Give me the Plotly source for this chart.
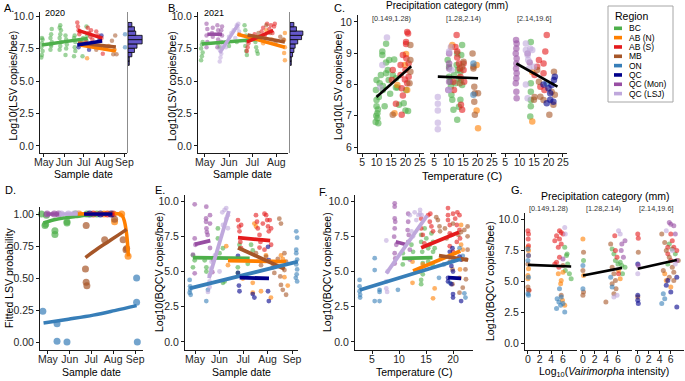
import plotly.graph_objects as go

W, H = 685, 381
FONT = "Liberation Sans, Arial, sans-serif"

REGIONS = ["BC", "AB (N)", "AB (S)", "MB", "ON", "QC", "QC (Mon)", "QC (LSJ)"]
COLORS = ["#4DAF4A", "#FF7F00", "#E41A1C", "#A65628", "#377EB8", "#00008B", "#984EA3", "#BFA8DC"]
MONTH_DOY = [121, 152, 182, 213, 244]
MONTH_LBL = ["May", "Jun", "Jul", "Aug", "Sep"]
PRECIP_CATS = ["[0.149,1.28)", "[1.28,2.14)", "[2.14,19.6]"]

# ---------------- Panel A (2020): (day of year, log10 LSV) ----------------
A_BC = [(117,6.8),(118,7.0),(119,7.3),(117,7.6),(118,7.9),(119,8.2),(118,8.3),
        (131,7.4),(132,7.8),(133,8.0),(131,8.3),(132,8.6),(133,9.0),(132,7.7),
        (145,7.4),(146,7.7),(147,8.0),(145,8.3),(146,8.6),(147,8.9),(146,9.3),(145,9.1),
        (154,7.0),(155,7.5),(156,7.8),(155,8.2),(154,8.5),
        (167,6.9),(168,7.6),(169,8.0),(167,8.3),(168,8.5),(169,7.3),
        (180,6.9),(179,8.0),(181,8.3),(186,8.1),(187,8.5),(186,9.2)]
A_ABN = [(187,6.75),(204,7.6),(214,7.5),(220,7.7),(229,7.4),(178,7.9)]
A_ABS = [(172,9.5),(173,9.2),(174,8.9),(175,8.6),(176,8.8),(188,9.1),(190,8.7),(192,8.4),
         (195,8.2),(193,8.9),(201,8.8),(204,8.5),(207,8.1),(209,8.3),(211,7.1),(185,8.0)]
A_MB = [(230,8.5),(225,8.1),(227,7.05),(232,7.05),(201,7.4),(215,7.6)]
A_ON = [(245,8.6),(245,7.6)]
A_QC = [(174,7.6),(190,7.4),(209,8.5),(206,8.2)]
A_BC_fit = [(118,7.77),(188,8.28)]
A_ABN_fit = [(176,7.77),(231,7.3)]
A_ABS_fit = [(173,8.9),(210,8.3)]
A_MB_fit = [(173,7.92),(231,7.62)]
A_QC_fit = [(172,7.77),(210,8.08)]

# ---------------- Panel B (2021) ----------------
B_BC = [(116,6.6),(117,6.9),(118,7.2),(116,7.5),(117,7.8),(118,8.0),(138,7.9),(140,7.6),
        (151,8.0),(152,7.7),(162,8.0),(172,9.3),(173,8.9),(174,8.5),(175,8.1),(173,7.7),
        (174,7.3),(175,7.0),(186,8.0),(187,7.6),(188,7.3),(189,7.1),(180,8.2)]
B_ABN = [(224,8.7),(223,8.15),(224,7.6),(223,7.15),(224,6.6),(189,8.4),(200,8.9),(207,8.2),(196,7.9),(165,8.6)]
B_ABS = [(175,7.3),(176,7.6),(177,7.9),(178,8.4),(194,8.8),(196,9.1),(198,8.5),(201,9.4),
         (204,9.0),(206,9.3),(208,8.7),(210,9.2),(211,9.4),(185,8.6),(190,8.3)]
B_MB = [(200,9.3),(205,8.7),(212,8.0),(218,8.4),(222,8.2),(190,8.7)]
B_QCMon = [(123,9.4),(124,9.0),(123,8.5),(124,8.0),(123,7.6),(131,9.1),(130,8.7),(131,8.4),
           (137,9.3),(138,8.9),(139,8.6),(138,8.2),(137,7.6),(143,9.2),(142,8.9),(143,8.5),(142,8.0)]
B_LSJ = [(140,6.5),(141,6.8),(142,7.1),(140,7.4),(143,7.7),(148,7.6),(150,8.0),(152,8.4),
         (155,8.7),(158,8.9),(162,9.3),(163,9.1),(164,9.4),(165,8.8),(160,8.3)]
B_BC_fit = [(117,7.85),(188,8.2)]
B_ABN_fit = [(163,8.6),(224,7.6)]
B_ABS_fit = [(175,8.0),(209,8.9)]
B_MB_fit = [(176,8.54),(224,8.0)]
B_QCMon_fit = [(124,8.6),(143,8.6)]
B_LSJ_fit = [(140,7.15),(164,9.38)]

# marginal histograms (bin centres, counts)
HIST_BINS = [6.37, 6.70, 7.03, 7.36, 7.69, 8.02, 8.35, 8.68, 9.01, 9.34]
A_HIST = [1, 1, 3, 5, 7, 11, 11, 6, 5, 3]
B_HIST = [1, 1, 2, 3, 4, 6, 9, 10, 5, 3]

# ---------------- Panel C: temperature vs LSV, by precipitation ----------------
C1_BC = [(10,8.14),(9.8,7.82),(10,7.5),(10,7.3),(10.3,7.08),(10.3,6.92),(10.6,6.76),(9.7,6.8),
         (11.1,8.04),(10.8,7.6),(12,9.05),(12,8.94),(12.2,7.82),(12.8,7.3),(13.3,8.36),(13.3,8.7),
         (13.9,8.46),(14.2,8.14),(13.3,9.3),(14.4,8.78),(15.6,8.3),(16.1,8.8),(16.7,8.2),(16.7,7.9),
         (17.8,7.35),(19.4,7.4),(20,7.17),(20.9,7.15),(20.2,7.82),(17.2,7.9),(12.2,7.95),(14.7,7.7),
         (10.5,7.2),(11.5,8.3),(9.9,7.0)]
C1_ABN = [(16.2,7.08),(20.2,8.97),(20.6,7.82),(17.2,7.98),(19.8,8.62)]
C1_ABS = [(18.3,8.62),(18.3,8.3),(18.7,7.88),(19.1,8.94),(19.8,8.16),(20,8.46),(20.2,9.36),(20.2,9.29),
          (20.6,9.68),(20.9,9.63),(20.3,8.84),(21.1,8.67),(21.1,8.25),(20.6,8.04),(18.7,7.03),
          (16.7,7.38),(15.6,8.46),(15.3,8.14),(19.1,7.65)]
C1_MB = [(21.7,9.26),(21.7,8.41),(21.4,8.04),(21.7,8.78),(15.6,7.03)]
C1_LSJ = [(13.6,9.5),(12,8.62),(11.3,7.9)]
C1_fit = [(10,7.6),(22,8.58)]

C2_BC = [(9.7,8.78),(10.2,8.57),(10.2,8.25),(10.6,8.09),(10.8,7.93),(11,7.67),(11.3,7.51),(11.7,7.19),
         (11.9,8.3),(12.4,8.04),(12.8,8.62),(13,8.99),(13.2,8.46),(13.6,8.2),(13,6.87),(14.1,8.41),
         (14.3,8.14),(14.4,8.94),(14.7,9.26),(14.7,7.98),(14.1,7.51),(13.6,7.29)]
C2_ABN = [(11,9.2),(11.3,9.26),(19.7,7.17),(20.2,6.6),(19.7,8.62)]
C2_ABS = [(12.8,9.58),(12.4,9.2),(13,9.05),(13,8.86),(13.6,8.67),(13.9,8.51),(14.1,8.25),(14.3,7.35),
          (14.7,7.19),(15.2,8.67),(15.2,8.46),(15.4,8.09),(11.7,8.09),(11.9,7.82)]
C2_MB = [(18.3,8.99),(18.6,8.57),(18.6,8.51),(18.9,7.93),(19.1,7.72),(18.9,7.45),(19.1,7.03),
         (20.2,7.72),(15.2,8.73),(14.7,8.57),(13.9,8.04)]
C2_ON = [(18.6,8.67),(18.6,7.67)]
C2_QCMon = [(10.2,8.99),(10.2,8.67),(10.2,8.51),(10.2,8.09),(9.9,7.82)]
C2_LSJ = [(6.3,7.6),(6.3,7.38),(6.3,7.17),(6.3,6.78),(6.3,6.57),(10.2,7.82),(10.8,9.2),(10.2,9.05),(11,8.46)]
C2_fit = [(6.3,8.25),(20.2,8.2)]

C3_BC = [(13.9,9.36),(13.9,8.04),(13.9,7.77),(13.9,7.5),(13.7,6.98),(13.9,7.3)]
C3_ABN = [(14.4,6.82),(14.4,8.4)]
C3_ABS = [(16.7,8.78),(16.1,8.57),(15.2,8.3),(18.3,8.36),(18.6,7.82),(19.4,9.58),(18.9,9.05),(18.3,8.67),(17.2,7.93)]
C3_MB = [(16.1,8.46),(16.7,8.09),(17.2,7.61),(18.3,7.5),(20.3,7.03),(21.7,7.35),(22.2,7.67),(21.1,7.77),
         (21.9,8.41),(15.2,7.6),(15,7.51)]
C3_ON = [(19.4,8.04)]
C3_QC = [(20.6,7.72),(20.6,7.51),(20,7.88),(21.1,7.98),(21.9,8.14),(22.2,8.25),(21.7,7.45),(19.4,7.4),(18.3,8.0)]
C3_QCMon = [(8.8,9.42),(9.0,9.31),(8.9,9.15),(8.7,8.99),(9.0,8.83),(8.9,8.67),(8.8,8.51),(9.0,8.36),
            (8.9,8.2),(8.7,8.04),(8.9,7.77),(9.0,7.56),(12.8,8.99),(13.5,8.7)]
C3_LSJ = [(12.2,9.31),(12.2,9.1),(12.8,8.94),(13,8.78),(13.3,8.51),(13.7,9.15),(14.4,9.1),(15,8.57),(12.8,7.56),(12.2,8.0)]
C3_fit = [(8.9,8.67),(23.1,7.93)]

# ---------------- Panel D: fitted LSV probability vs date ----------------
D_BC = [(112,1.0),(119,0.99),(117,0.91),(118,0.92),(131,0.87),(131,0.84),(148,0.94),(148,0.93),(176,1.0),(160,1.0),(190,1.0)]
D_ABN = [(234,0.67),(215,0.94),(165,1.0),(200,1.0),(225,1.0)]
D_ABS = [(185,1.0),(205,1.0),(213,1.0)]
D_MB = [(175,0.91),(174,0.57),(175,0.466),(176,0.44),(201,0.80),(215,0.96),(227,0.80),(232,0.73),(231,0.72)]
D_ON = [(114,0.24),(134,0.143),(134,0.005),(148,0.0),(246,0.50),(246,0.31),(247,0.0)]
D_QC = [(180,1.0),(195,1.0),(210,1.0)]
D_QCMon = [(120,1.0),(130,1.0),(136,1.0)]
D_LSJ = [(140,1.0),(150,1.0),(158,1.0),(162,1.0)]
D_BC_fit = [(115,0.93),(130,0.955),(145,0.97),(160,0.98),(175,0.99),(190,0.997)]
D_ABN_fit = [(163,1.0),(222,1.0),(226,0.985),(229,0.94),(232,0.84),(234.5,0.67)]
D_ABS_fit = [(173,1.0),(215,1.0)]
D_MB_fit = [(174,0.66),(190,0.725),(205,0.78),(220,0.835),(232,0.88)]
D_ON_fit = [(115,0.148),(150,0.178),(185,0.21),(215,0.245),(246,0.284)]
D_QC_fit = [(172,1.0),(212,1.0)]
D_QCMon_fit = [(119,1.0),(137,1.0)]
D_LSJ_fit = [(138,1.0),(163,1.0)]

# ---------------- Panel E: BQCV vs date ----------------
E_BC = [(118.4,6.15),(120.6,5.8),(118.4,5.3),(133.3,5.8),(135.4,5.3),(135.4,5.0),(150,8.06),(150,7.35),
        (152.1,6.3),(156.4,6.65),(158.5,4.3),(156.4,4.2),(175.3,5.3),(175.3,4.9),(177.4,6.9),(192.1,6.9),
        (194.2,6.5),(187.9,5.55)]
E_ABN = [(162.8,5.45),(160.6,6.8),(196.3,8.4),(198.4,8.2),(194.2,4.2),(204.7,3.6),(211,6.15),(217.3,3.15),
         (230,6.15),(232.3,5.9),(234.4,4.6),(238.6,4.0),(181.6,4.5),(194.2,3.5)]
E_ABS = [(175.5,8.65),(176.7,8.18),(177.4,7.85),(178.5,7.1),(179.5,6.65),(175.5,5.9),(179.5,8.3),(198.3,9.0),
         (199.6,8.53),(200.6,8.06),(202.8,7.6),(202.8,6.7),(209.1,9.1),(211.2,9.0),(212.5,8.65),(213.6,8.2),
         (214.6,7.85),(215.8,8.65),(217.5,8.06),(217.5,6.9),(207,8.4),(209.1,6.55),(204,7.1)]
E_MB = [(198.3,6.3),(204.7,5.45),(211.1,6.05),(219.5,5.3),(221.6,4.9),(227.9,8.75),(230,8.4),(229.1,4.65),
        (230,4.05),(232.3,3.7),(234.4,5.1),(236.5,5.7),(236.5,3.35),(234.4,6.3),(226,5.9)]
E_ON = [(114.2,4.4),(114.8,3.95),(114.8,3.7),(114.2,3.5),(115.5,3.35),(137.4,3.7),(135.3,2.9),(249.4,7.85),
        (250.5,7.4),(249.4,6.55),(249.4,6.3),(250.5,5.85),(249.4,5.5),(250.5,5.15),(249.9,4.8),(248.8,4.55),(250.5,4.3)]
E_QC = [(175.5,6.1),(176.7,4.0),(177.4,3.6),(194.2,3.4),(196.3,3.15),(213.6,6.75),(214.6,5.8),(213.6,3.6),(214.6,2.9),(175.5,4.9)]
E_QCMon = [(120.6,9.77),(135.3,9.6),(135,8.77),(135,8.53),(135.5,8.06),(136,7.8),(137,7.6),(140,9.0),(140,8.4),
           (140,6.67),(120.6,7.35),(121.5,6.9),(120.6,4.87),(118.4,6.2),(144.2,5.8),(143,4.95)]
E_LSJ = [(139.5,4.75),(139.5,4.3),(141,5.2),(142,5.7),(146.3,6.15),(155.6,9.2),(158.5,9.37),(160.6,9.5),(162.7,9.0),
         (156.5,8.3),(160.6,8.75),(162.7,8.07),(152.1,5.0),(137.4,3.55),(139.5,3.9)]
E_BC_fit = [(118.4,5.98),(190.3,5.93)]
E_ABN_fit = [(162.8,5.77),(236.7,5.7)]
E_ABS_fit = [(175.5,7.4),(216.3,7.19)]
E_MB_fit = [(175.5,6.69),(234.6,5.18)]
E_ON_fit = [(114.2,3.8),(251.5,5.7)]
E_QC_fit = [(177.6,4.56),(214.8,4.52)]
E_QCMon_fit = [(120.6,6.93),(140.4,7.19)]
E_LSJ_fit = [(138.7,4.52),(164,9.29)]

# ---------------- Panel F: BQCV vs temperature ----------------
F_BC = [(10.7,6.3),(10.7,5.5),(12.3,6.9),(12.6,6.4),(14.1,7.6),(14.1,7.1),(14.3,6.4),(14.4,5.6),(14.75,8.06),
        (15.06,7.35),(15.4,6.65),(15.4,5.7),(14.4,4.8),(14.1,4.4),(14.1,4.1),(15.7,6.9),(16.0,7.7),(16.3,7.1),
        (16.3,6.4),(16.6,6.65),(16.2,5.5)]
F_ABN = [(12.5,5.7),(12.5,4.2),(16.6,3.8),(16.3,3.1),(13.8,5.0),(14.4,5.5),(21.5,8.3),(21.5,6.9),(21.8,6.55),
         (21.7,5.85),(21.3,5.15),(21.2,4.55),(19.7,6.1)]
F_ABS = [(14.1,8.75),(14.1,8.06),(14.4,7.6),(14.7,7.0),(15.4,9.0),(15.8,9.1),(15.7,8.53),(16.0,8.2),(16.3,7.85),
         (19.07,9.5),(19.07,9.0),(19.07,8.65),(19.4,8.3),(20.0,9.1),(20.4,8.75),(20.7,8.3),(20.8,9.2),(21.2,9.0),
         (21.2,7.95),(21.3,7.35),(20.7,7.1),(19.4,7.7),(19.4,6.8),(20.0,6.4),(19.7,7.6)]
F_MB = [(16.9,8.85),(17.2,8.65),(17.5,8.2),(17.6,7.85),(18.5,8.06),(18.8,7.35),(20.0,8.4),(21.0,7.6),(21.5,7.8),
        (22.1,7.95),(22.7,8.2),(22.7,7.5),(22.7,6.55),(22.4,5.85),(22.3,5.15),(22.4,4.45),(21.8,3.85),(21.2,3.5),
        (19.9,4.1),(19.9,5.15),(19.4,5.7)]
F_ON = [(2.7,4.4),(2.7,3.95),(2.7,3.6),(2.8,3.35),(2.8,3.15),(5.5,5.95),(5.5,5.1),(5.5,2.9),(6.4,2.9),(6.4,3.7),
        (6.4,3.55),(9.8,3.7),(17.4,4.55),(18.3,5.5),(20.0,5.75),(21.2,6.65),(21.8,6.1),(22.1,3.45),(22.3,3.15),(19.4,4.2)]
F_QC = [(19.4,6.4),(19.9,6.65),(19.7,5.4),(20.0,5.0),(19.07,4.55),(19.7,4.1),(20.0,3.4),(20.0,3.15),(21.5,2.9),
        (21.5,5.85),(21.2,6.05),(19.07,4.3)]
F_QCMon = [(9.2,9.84),(9.2,9.6),(9.2,8.77),(9.3,8.53),(9.2,8.06),(9.1,7.47),(9.2,6.3),(9.3,5.93),(9.2,5.57),
           (11.7,9.1),(11.7,8.53),(11.6,7.94),(11.8,7.6),(11.7,7.1),(12,6.55),(12,5.85),(9.5,6.9)]
F_LSJ = [(7.65,7.2),(7.65,4.3),(7.65,3.8),(7.8,3.55),(7.9,5.0),(12,9.0),(12.9,9.2),(13.9,9.37),(13.6,9.0),
         (12.3,7.85),(12.6,7.5),(13.2,8.65),(13.9,9.1),(14.2,9.0)]
F_BC_fit = [(10.6,5.93),(16.2,5.98)]
F_ABN_fit = [(12.6,5.03),(21.35,6.45)]
F_ABS_fit = [(14.1,6.69),(21.1,7.78)]
F_MB_fit = [(17.4,6.12),(22.8,5.82)]
F_ON_fit = [(2.72,3.69),(21.5,5.89)]
F_QC_fit = [(19.1,4.56),(21.5,4.52)]
F_QCMon_fit = [(9.4,7.11),(11.24,6.92)]
F_LSJ_fit = [(7.65,4.87),(15.2,8.96)]

# ---------------- Panel G: BQCV vs log10 Vairimorpha intensity ----------------
G1_BC = [(6.3,7.73),(6.6,7.07),(6.8,6.4),(6.4,5.87),(7.1,5.6),(7.4,5.2),(6.7,7.2)]
G1_ABN = [(0,7.73),(0.1,7.47),(0.1,6.0),(0,5.47),(0,5.2),(5.2,5.6),(5.6,4.8),(5.7,5.07),(6.0,5.73),(5.9,3.47),(6.3,3.07)]
G1_ABS = [(0,9.07),(0.1,8.8),(0.05,8.4),(0.1,7.87),(0.1,7.07),(0.2,4.27),(4.6,8.27),(4.9,8.67),(5.4,9.07),(5.7,8.93),
          (6.0,8.8),(5.4,8.4),(5.7,8.0),(5.2,7.73),(5.4,6.93),(4.9,6.53),(4.6,6.4),(5.3,6.13)]
G1_MB = [(0,6.4),(0,4.53),(0.1,4.27),(5.7,3.87),(6.0,6.27)]
G1_ON = [(0,7.6),(0.1,7.07),(0,6.67),(0.1,5.33),(0,4.0),(0.1,3.87),(5.4,4.4),(5.7,3.73),(5.3,3.33),(6.0,3.2),
         (6.3,2.53),(4.9,2.8),(5.6,3.07),(5.0,3.6)]
G1_QCMon = [(6.0,6.8)]
G1_LSJ = [(6.3,9.33),(6.4,8.8)]
G1_fit = [(0,6.32),(7.4,6.19)]

G2_BC = [(0.1,6.67),(5.0,7.6),(5.3,7.2),(5.56,6.67),(6.0,6.4),(6.38,6.53),(6.66,6.27),(7.2,6.13),(6.77,5.6)]
G2_ABN = [(0,8.4),(0.1,5.47),(6.1,5.87),(6.38,5.2)]
G2_ABS = [(5.45,8.67),(5.56,7.47),(5.84,6.93),(6.1,5.6)]
G2_MB = [(0.1,7.33),(0,5.87),(0.1,4.13),(0,3.87),(3.93,3.33),(4.75,8.0),(5.0,6.13),(5.3,5.6),(5.56,5.07),(5.0,4.8),(5.67,4.4),(5.3,4.0)]
G2_ON = [(0,6.27),(0,4.4),(4.75,5.33),(5.0,4.53)]
G2_QCMon = [(6.66,8.0),(6.55,7.47),(7.2,8.27),(6.93,6.93)]
G2_LSJ = [(6.1,9.07),(6.38,8.8),(5.3,3.73),(5.84,3.87)]
G2_fit = [(0,5.47),(6.7,6.08)]

G3_BC = [(5.73,8.0),(6.27,7.6),(6.82,7.2),(5.46,6.4)]
G3_ABN = [(4.9,5.6),(5.18,5.07),(6.0,4.53)]
G3_ABS = [(0,8.8),(0.1,8.47),(6.0,8.8),(6.27,8.27),(6.55,7.73),(5.46,7.2),(6.0,6.67),(7.09,7.47),(5.46,7.73)]
G3_MB = [(0.1,7.33),(0,3.73),(4.36,8.8),(4.9,8.13),(5.18,7.47),(5.73,6.93),(4.64,5.87),(6.27,6.13),(6.55,5.73),
         (5.73,5.33),(6.55,5.07),(7.36,6.67)]
G3_ON = [(4.64,4.0),(4.9,3.6),(4.36,3.2)]
G3_QC = [(0,6.4),(0,3.47),(0.1,3.2),(0,3.87),(5.46,5.07),(5.18,4.67),(6.0,4.13),(7.09,2.93),(7.09,5.33)]
G3_QCMon = [(0.1,6.27),(5.73,9.73),(6.0,9.6),(6.55,9.47),(6.82,8.8),(7.09,6.67)]
G3_LSJ = [(0,5.6),(5.18,9.07),(6.27,7.47),(6.82,6.4)]
G3_fit = [(0,6.0),(7.1,6.72)]

# ============================ figure construction ============================
COL = dict(zip(REGIONS, COLORS))
fig = go.Figure()
layout = dict(template="none", width=W, height=H, margin=dict(l=0, r=0, t=0, b=0, pad=0, autoexpand=False),
              paper_bgcolor="white", plot_bgcolor="rgba(0,0,0,0)", showlegend=False,
              font=dict(family=FONT, color="black"))
annotations, shapes = [], []
_n = [0]


def make_axes(box, xr, yr, xkw=None, ykw=None):
    _n[0] += 1
    k = _n[0]
    s = "" if k == 1 else str(k)
    x0, x1, yt, yb = box
    base = dict(showgrid=False, zeroline=False, showline=True, linecolor="#1a1a1a", linewidth=1,
                ticks="outside", ticklen=3, tickwidth=1, tickcolor="#1a1a1a", tickangle=0, automargin=False,
                tickfont=dict(size=10.5, color="#262626", family=FONT), fixedrange=True)
    xa = dict(base, domain=[x0 / W, x1 / W], range=xr, anchor="y" + s, ticklabelstandoff=-4)
    ya = dict(base, domain=[1 - yb / H, 1 - yt / H], range=yr, anchor="x" + s)
    if xkw:
        xa.update(xkw)
    if ykw:
        ya.update(ykw)
    layout["xaxis" + s] = xa
    layout["yaxis" + s] = ya
    return "x" + s, "y" + s


def txt(x, y, text, size, xanchor="center", angle=0, color="black"):
    annotations.append(dict(x=x / W, y=1 - y / H, xref="paper", yref="paper", text=text, showarrow=False,
                            xanchor=xanchor, yanchor="middle", textangle=angle,
                            font=dict(size=size, color=color, family=FONT)))


def points(ax, data, color, size, opacity):
    xs, ys = zip(*data)
    fig.add_trace(go.Scatter(x=list(xs), y=list(ys), mode="markers", xaxis=ax[0], yaxis=ax[1],
                             marker=dict(color=color, size=size, opacity=opacity, line=dict(width=0)),
                             hoverinfo="skip", cliponaxis=False))


def line(ax, data, color, width, spline=False):
    xs, ys = zip(*data)
    fig.add_trace(go.Scatter(x=list(xs), y=list(ys), mode="lines", xaxis=ax[0], yaxis=ax[1],
                             line=dict(color=color, width=width, shape="spline" if spline else "linear"),
                             hoverinfo="skip", cliponaxis=False))


DATE_X = dict(tickvals=MONTH_DOY, ticktext=MONTH_LBL)
LSV_Y = dict(tickvals=[0, 2.5, 5, 7.5, 10], tickformat=".1f")
HIDE_Y = dict(showline=False, ticks="", showticklabels=False)

# ---- A ----
axA = make_axes((40, 127, 12, 153), [115, 248], [-0.54, 10.31], DATE_X, LSV_Y)
for reg, d in [("BC", A_BC), ("AB (N)", A_ABN), ("AB (S)", A_ABS), ("MB", A_MB), ("ON", A_ON), ("QC", A_QC)]:
    points(axA, d, COL[reg], 4.5, 0.55)
for reg, d in [("BC", A_BC_fit), ("AB (N)", A_ABN_fit), ("AB (S)", A_ABS_fit), ("MB", A_MB_fit), ("QC", A_QC_fit)]:
    line(axA, d, COL[reg], 3.5)
axAh = make_axes((128, 146, 12, 153), [0, 14], [-0.54, 10.31], dict(visible=False),
                 dict(showline=True, linecolor="#8c8c8c", ticks="", showticklabels=False))
fig.add_trace(go.Bar(x=A_HIST, y=HIST_BINS, orientation="h", width=0.33, xaxis=axAh[0], yaxis=axAh[1],
                     marker=dict(color="#6457C9", line=dict(color="black", width=0.8)), hoverinfo="skip"))

# ---- B ----
axB = make_axes((198, 288, 12, 153), [112, 228], [-0.54, 10.31], DATE_X, LSV_Y)
for reg, d in [("BC", B_BC), ("AB (N)", B_ABN), ("AB (S)", B_ABS), ("MB", B_MB), ("QC (Mon)", B_QCMon), ("QC (LSJ)", B_LSJ)]:
    points(axB, d, COL[reg], 4.5, 0.55)
for reg, d in [("BC", B_BC_fit), ("AB (N)", B_ABN_fit), ("AB (S)", B_ABS_fit), ("MB", B_MB_fit),
               ("QC (Mon)", B_QCMon_fit), ("QC (LSJ)", B_LSJ_fit)]:
    line(axB, d, COL[reg], 3.5)
axBh = make_axes((290, 308, 12, 153), [0, 14], [-0.54, 10.31], dict(visible=False),
                 dict(showline=True, linecolor="#8c8c8c", ticks="", showticklabels=False))
fig.add_trace(go.Bar(x=B_HIST, y=HIST_BINS, orientation="h", width=0.33, xaxis=axBh[0], yaxis=axBh[1],
                     marker=dict(color="#6457C9", line=dict(color="black", width=0.8)), hoverinfo="skip"))

# ---- C ----
C_X = dict(tickvals=[5, 10, 15, 20, 25])
C_Y = dict(tickvals=[6, 7, 8, 9, 10])
C_FACETS = [
    ((358, 424), [("BC", C1_BC), ("AB (N)", C1_ABN), ("AB (S)", C1_ABS), ("MB", C1_MB), ("QC (LSJ)", C1_LSJ)], C1_fit),
    ((430, 496), [("BC", C2_BC), ("AB (N)", C2_ABN), ("AB (S)", C2_ABS), ("MB", C2_MB), ("ON", C2_ON),
                  ("QC (Mon)", C2_QCMon), ("QC (LSJ)", C2_LSJ)], C2_fit),
    ((501, 567), [("BC", C3_BC), ("AB (N)", C3_ABN), ("AB (S)", C3_ABS), ("MB", C3_MB), ("ON", C3_ON),
                  ("QC", C3_QC), ("QC (Mon)", C3_QCMon), ("QC (LSJ)", C3_LSJ)], C3_fit),
]
for i, ((x0, x1), series, fit) in enumerate(C_FACETS):
    ax = make_axes((x0, x1, 15, 153), [3.6, 26.4], [5.81, 10.22], C_X, C_Y if i == 0 else HIDE_Y)
    for reg, d in series:
        points(ax, d, COL[reg], 6.5, 0.6)
    line(ax, fit, "black", 2.6)
    txt((x0 + x1) / 2, 18, PRECIP_CATS[i], 7.3, color="#333")

# ---- D ----
axD = make_axes((40, 143, 207, 350), [110, 255], [-0.0625, 1.055], DATE_X,
                dict(tickvals=[0, 0.25, 0.5, 0.75, 1.0], tickformat=".2f"))
for reg, d in [("BC", D_BC), ("AB (N)", D_ABN), ("AB (S)", D_ABS), ("MB", D_MB), ("ON", D_ON), ("QC", D_QC),
               ("QC (Mon)", D_QCMon), ("QC (LSJ)", D_LSJ)]:
    points(axD, d, COL[reg], 7, 0.7)
for reg, d in [("BC", D_BC_fit), ("AB (N)", D_ABN_fit), ("AB (S)", D_ABS_fit), ("MB", D_MB_fit), ("ON", D_ON_fit),
               ("QC", D_QC_fit), ("QC (Mon)", D_QCMon_fit), ("QC (LSJ)", D_LSJ_fit)]:
    line(axD, d, COL[reg], 3.5, spline=True)

# ---- E ----
axE = make_axes((185, 298, 195, 350), [108.3, 251.6], [-0.57, 10.43], DATE_X, LSV_Y)
for reg, d in [("BC", E_BC), ("AB (N)", E_ABN), ("AB (S)", E_ABS), ("MB", E_MB), ("ON", E_ON), ("QC", E_QC),
               ("QC (Mon)", E_QCMon), ("QC (LSJ)", E_LSJ)]:
    points(axE, d, COL[reg], 4.8, 0.6)
for reg, d in [("BC", E_BC_fit), ("AB (N)", E_ABN_fit), ("AB (S)", E_ABS_fit), ("MB", E_MB_fit), ("ON", E_ON_fit),
               ("QC", E_QC_fit), ("QC (Mon)", E_QCMon_fit), ("QC (LSJ)", E_LSJ_fit)]:
    line(axE, d, COL[reg], 3.8)

# ---- F ----
axF = make_axes((355, 473, 195, 350), [1.85, 23.7], [-0.57, 10.43], dict(tickvals=[5, 10, 15, 20]), LSV_Y)
for reg, d in [("BC", F_BC), ("AB (N)", F_ABN), ("AB (S)", F_ABS), ("MB", F_MB), ("ON", F_ON), ("QC", F_QC),
               ("QC (Mon)", F_QCMon), ("QC (LSJ)", F_LSJ)]:
    points(axF, d, COL[reg], 4.8, 0.6)
for reg, d in [("BC", F_BC_fit), ("AB (N)", F_ABN_fit), ("AB (S)", F_ABS_fit), ("MB", F_MB_fit), ("ON", F_ON_fit),
               ("QC", F_QC_fit), ("QC (Mon)", F_QCMon_fit), ("QC (LSJ)", F_LSJ_fit)]:
    line(axF, d, COL[reg], 3.8)

# ---- G ----
G_FACETS = [
    ((525, 577), [("BC", G1_BC), ("AB (N)", G1_ABN), ("AB (S)", G1_ABS), ("MB", G1_MB), ("ON", G1_ON),
                  ("QC (Mon)", G1_QCMon), ("QC (LSJ)", G1_LSJ)], G1_fit),
    ((580, 632), [("BC", G2_BC), ("AB (N)", G2_ABN), ("AB (S)", G2_ABS), ("MB", G2_MB), ("ON", G2_ON),
                  ("QC (Mon)", G2_QCMon), ("QC (LSJ)", G2_LSJ)], G2_fit),
    ((635, 684), [("BC", G3_BC), ("AB (N)", G3_ABN), ("AB (S)", G3_ABS), ("MB", G3_MB), ("ON", G3_ON),
                  ("QC", G3_QC), ("QC (Mon)", G3_QCMon), ("QC (LSJ)", G3_LSJ)], G3_fit),
]
for i, ((x0, x1), series, fit) in enumerate(G_FACETS):
    ax = make_axes((x0, x1, 213, 350), [-0.5, 8.4], [-0.54, 10.5], dict(tickvals=[0, 2, 4, 6]),
                   LSV_Y if i == 0 else HIDE_Y)
    for reg, d in series:
        points(ax, d, COL[reg], 5, 0.6)
    line(ax, fit, "black", 2.6)
    txt((x0 + x1) / 2 - 3, 208, PRECIP_CATS[i], 7.3, color="#333")

# ---- titles & labels ----
for lbl, x, y in [("A.", 2, 8), ("B.", 166, 8), ("C.", 332, 8), ("D.", 3, 190), ("E.", 153, 190),
                  ("F.", 317, 192), ("G.", 509, 190)]:
    txt(x, y, lbl, 11, xanchor="left")
txt(12.5, 86, "Log10(LSV copies/bee)", 10.5, angle=-90)
txt(172, 86, "Log10(LSV copies/bee)", 10.5, angle=-90)
txt(338, 85, "Log10(LSV copies/bee)", 10.5, angle=-90)
txt(9, 278, "Fitted LSV probability", 10.5, angle=-90)
txt(159, 272, "Log10(BQCV copies/bee)", 10.5, angle=-90)
txt(327, 272, "Log10(BQCV copies/bee)", 10.5, angle=-90)
txt(490, 281, "Log10(BQCV copies/bee)", 10.5, angle=-90)
txt(83.5, 174, "Sample date", 10.5)
txt(243, 174, "Sample date", 10.5)
txt(462, 176, "Temperature (C)", 11)
txt(91.5, 372, "Sample date", 10.5)
txt(241.5, 372, "Sample date", 10.5)
txt(414, 372, "Temperature (C)", 10.5)
txt(604, 372, "Log<sub>10</sub>(<i>Vairimorpha</i> intensity)", 10.5)
txt(447, 6, "Precipitation category (mm)", 10)
txt(605, 196, "Precipitation category (mm)", 10.5)
txt(43, 13, "2020", 9, xanchor="left")
txt(202, 13, "2021", 9, xanchor="left")

# ---- legend (drawn) ----
shapes.append(dict(type="rect", xref="paper", yref="paper", x0=608 / W, x1=673 / W, y0=1 - 102 / H, y1=1 - 6 / H,
                   line=dict(color="#a6a6a6", width=1), fillcolor="white"))
txt(613, 16, "Region", 10.5, xanchor="left")
for i, (reg, c) in enumerate(zip(REGIONS, COLORS)):
    yc = 28.3 + 9.33 * i
    shapes.append(dict(type="rect", xref="paper", yref="paper", x0=614 / W, x1=622 / W,
                       y0=1 - (yc + 1.8) / H, y1=1 - (yc - 1.8) / H, line=dict(width=0), fillcolor=c))
    txt(627, yc, reg, 8.5, xanchor="left")

layout["annotations"] = annotations
layout["shapes"] = shapes
fig.update_layout(**layout)
fig.write_html("out.html", config={"displayModeBar": False, "staticPlot": True},
               post_script="document.body.style.margin='0';document.body.style.overflow='hidden';")
